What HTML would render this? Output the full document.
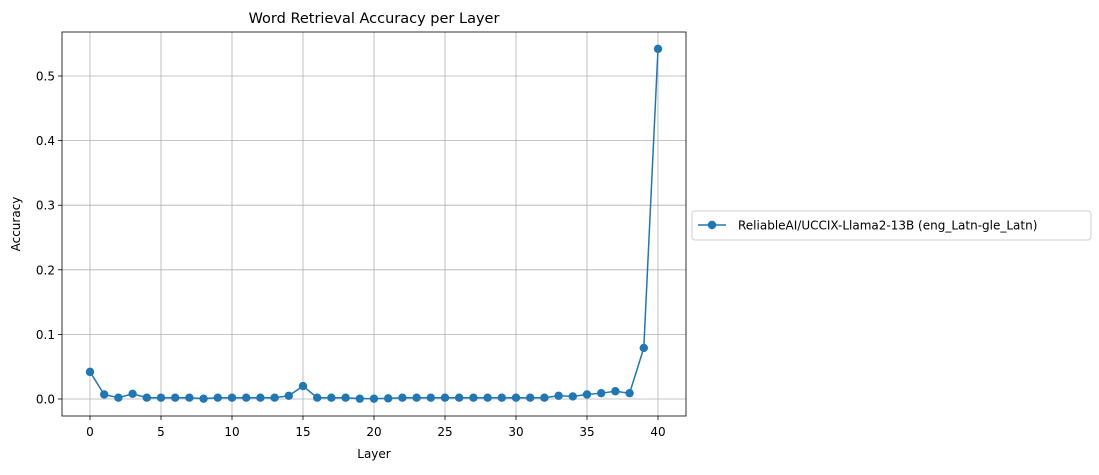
<!DOCTYPE html>
<html><head><meta charset="utf-8"><style>
body{margin:0;background:#fff;font-family:"Liberation Sans","DejaVu Sans",sans-serif}
svg text{font-family:"DejaVu Sans","Liberation Sans",sans-serif;fill:#000}
</style></head><body>
<svg id="c" width="1099" height="470"></svg>
<script>
const layers=[0,1,2,3,4,5,6,7,8,9,10,11,12,13,14,15,16,17,18,19,20,21,22,23,24,25,26,27,28,29,30,31,32,33,34,35,36,37,38,39,40];
const accuracy=[0.042,0.007,0.002,0.008,0.002,0.002,0.002,0.002,0.0005,0.002,0.002,0.002,0.002,0.002,0.005,0.020,0.002,0.002,0.002,0.0005,0.0005,0.001,0.002,0.002,0.002,0.002,0.002,0.002,0.002,0.002,0.002,0.002,0.002,0.005,0.004,0.007,0.009,0.012,0.009,0.079,0.542];
const xTicks=[0,5,10,15,20,25,30,35,40];
const yTicks=[0.0,0.1,0.2,0.3,0.4,0.5];
const L=62,R=686,T=32,B=416;
const xs=v=>90+v*(658-90)/40;
const ys=v=>399-v*(399-76)/0.5;
const svg=document.getElementById('c');const NS='http://www.w3.org/2000/svg';
function mk(t,a,p){const e=document.createElementNS(NS,t);for(const k in a)e.setAttribute(k,a[k]);(p||svg).appendChild(e);return e;}
xTicks.forEach(t=>{const x=xs(t);
const g=mk('line',{x1:x,x2:x,y1:T,y2:B,stroke:'#b0b0b0','stroke-width':0.8});


mk('line',{x1:x,x2:x,y1:B,y2:B+4,stroke:'#000','stroke-width':0.8});
const tx=mk('text',{x:x,y:B+20,'text-anchor':'middle','font-size':12});tx.textContent=t;

});
yTicks.forEach(t=>{const y=ys(t);
const g=mk('line',{x1:L,x2:R,y1:y,y2:y,stroke:'#b0b0b0','stroke-width':0.8});


mk('line',{x1:L-4,x2:L,y1:y,y2:y,stroke:'#000','stroke-width':0.8});
const tx=mk('text',{x:L-7,y:y+4.5,'text-anchor':'end','font-size':12});tx.textContent=t.toFixed(1);

});
const fr=mk('rect',{x:L,y:T,width:R-L,height:B-T,fill:'none',stroke:'#000','stroke-width':0.8});


const ln=mk('polyline',{points:layers.map((l,i)=>xs(l)+','+ys(accuracy[i])).join(' '),fill:'none',stroke:'#1f77b4','stroke-width':1.5});


layers.forEach((l,i)=>{const c=mk('circle',{cx:xs(l),cy:ys(accuracy[i]),r:4.2,fill:'#1f77b4'});

});
let t=mk('text',{x:374,y:23,'text-anchor':'middle','font-size':14.5});t.textContent='Word Retrieval Accuracy per Layer';


t=mk('text',{x:374,y:458,'text-anchor':'middle','font-size':12});t.textContent='Layer';


t=mk('text',{x:20,y:224,'text-anchor':'middle','font-size':12,transform:'rotate(-90 20 224)'});t.textContent='Accuracy';


const lg=mk('g',{});


mk('rect',{x:692,y:211,width:399,height:29,rx:3,fill:'#fff',stroke:'#d0d0d0'},lg);
mk('line',{x1:698,x2:726,y1:225,y2:225,stroke:'#1f77b4','stroke-width':1.5},lg);
mk('circle',{cx:712,cy:225,r:4.2,fill:'#1f77b4'},lg);
t=mk('text',{x:738,y:229.5,'font-size':12},lg);t.textContent='ReliableAI/UCCIX-Llama2-13B (eng_Latn-gle_Latn)';
</script>
</body></html>
